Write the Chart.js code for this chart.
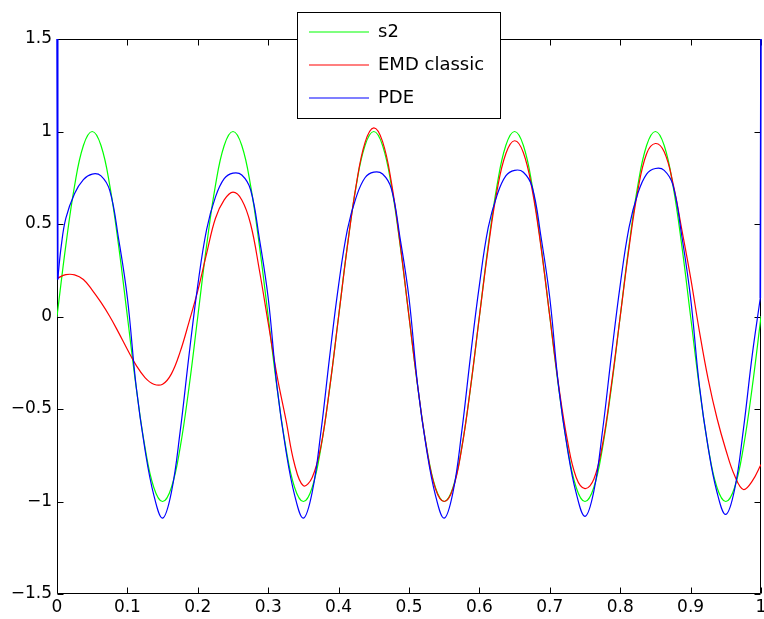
<!DOCTYPE html>
<html>
<head>
<meta charset="utf-8">
<script src="https://cdn.jsdelivr.net/npm/chart.js@4.4.1/dist/chart.umd.min.js"></script>
<style>
html,body{margin:0;padding:0;background:#fff;}
canvas{display:block;}
</style>
</head>
<body>
<canvas id="c" width="764" height="619"></canvas>
<script>
// ---- data ----
const seriesNames = ['s2', 'EMD classic', 'PDE'];
const seriesColors = ['#00ff00', '#ff0000', '#0000ff'];

const xGrid = [0,0.0125,0.025,0.0375,0.05,0.0625,0.075,0.0875,0.1,0.1125,0.125,0.1375,0.15,0.1625,0.175,0.1875,
  0.2,0.2125,0.225,0.2375,0.25,0.2625,0.275,0.2875,0.3,0.3125,0.325,0.3375,0.35,0.3625,0.375,0.3875,
  0.4,0.4125,0.425,0.4375,0.45,0.4625,0.475,0.4875,0.5,0.5125,0.525,0.5375,0.55,0.5625,0.575,0.5875,
  0.6,0.6125,0.625,0.6375,0.65,0.6625,0.675,0.6875,0.7,0.7125,0.725,0.7375,0.75,0.7625,0.775,0.7875,
  0.8,0.8125,0.825,0.8375,0.85,0.8625,0.875,0.8875,0.9,0.9125,0.925,0.9375,0.95,0.9625,0.975,0.9875,
  1];

const s2Values = [0,0.383,0.707,0.924,1,0.924,0.707,0.383,0,-0.383,-0.707,-0.924,-1,-0.924,-0.707,-0.383,
  0,0.383,0.707,0.924,1,0.924,0.707,0.383,0,-0.383,-0.707,-0.924,-1,-0.924,-0.707,-0.383,
  0,0.383,0.707,0.924,1,0.924,0.707,0.383,0,-0.383,-0.707,-0.924,-1,-0.924,-0.707,-0.383,
  0,0.383,0.707,0.924,1,0.924,0.707,0.383,0,-0.383,-0.707,-0.924,-1,-0.924,-0.707,-0.383,
  0,0.383,0.707,0.924,1,0.924,0.707,0.383,0,-0.383,-0.707,-0.924,-1,-0.924,-0.707,-0.383,
  0];

const emdValues = [0.206,0.226,0.225,0.2,0.143,0.076,0.0,-0.087,-0.178,-0.264,-0.33,-0.366,-0.366,-0.31,-0.19,-0.03,
  0.14,0.34,0.53,0.63,0.672,0.63,0.50,0.25,-0.035,-0.32,-0.555,-0.80,-0.915,-0.87,-0.70,-0.38,
  0.0,0.38,0.71,0.94,1.02,0.945,0.725,0.39,0.0,-0.38,-0.71,-0.93,-1.0,-0.93,-0.71,-0.38,
  0.0,0.37,0.68,0.88,0.95,0.885,0.685,0.375,0.0,-0.37,-0.67,-0.87,-0.93,-0.88,-0.69,-0.37,
  0.0,0.37,0.68,0.88,0.935,0.89,0.72,0.47,0.21,-0.08,-0.34,-0.55,-0.72,-0.86,-0.935,-0.89,
  -0.80];

// PDE: main curve
const pdeX = [0.001,0.006,0.0125,0.025,0.0375,0.05,0.0625,0.075,0.0875,0.1,0.1125,0.125,0.1375,0.15,0.1625,0.175,0.1875,
  0.2,0.2125,0.225,0.2375,0.25,0.2625,0.275,0.2875,0.3,0.3125,0.325,0.3375,0.35,0.3625,0.375,0.3875,
  0.4,0.4125,0.425,0.4375,0.45,0.4625,0.475,0.4875,0.5,0.5125,0.525,0.5375,0.55,0.5625,0.575,0.5875,
  0.6,0.6125,0.625,0.6375,0.65,0.6625,0.675,0.6875,0.7,0.7125,0.725,0.7375,0.75,0.7625,0.775,0.7875,
  0.8,0.8125,0.825,0.8375,0.85,0.8625,0.875,0.8875,0.9,0.9125,0.925,0.9375,0.95,0.9625,0.975,0.9875,
  0.999];

const pdeValues = [0.2,0.38,0.53,0.665,0.74,0.77,0.76,0.68,0.42,0.10,-0.38,-0.72,-0.965,-1.09,-0.95,-0.62,-0.21,
  0.17,0.47,0.645,0.745,0.775,0.765,0.685,0.42,0.10,-0.38,-0.72,-0.965,-1.09,-0.95,-0.62,-0.21,
  0.17,0.47,0.645,0.75,0.78,0.77,0.69,0.42,0.10,-0.38,-0.72,-0.965,-1.09,-0.95,-0.62,-0.21,
  0.17,0.48,0.655,0.76,0.79,0.78,0.70,0.43,0.10,-0.38,-0.715,-0.955,-1.08,-0.945,-0.615,-0.21,
  0.17,0.48,0.665,0.77,0.80,0.79,0.71,0.435,0.10,-0.375,-0.71,-0.95,-1.07,-0.935,-0.61,-0.21,
  0.10];

// PDE: boundary spikes at both ends (the values run off the top of the axes)
const pdeEdgeX = [0, 0.001, 0.5, 0.999, 1];
const pdeEdgeValues = [1.6, 0.2, null, 0.10, 1.6];

const xTickValues = [0,0.1,0.2,0.3,0.4,0.5,0.6,0.7,0.8,0.9,1];
const xTickLabels = ['0','0.1','0.2','0.3','0.4','0.5','0.6','0.7','0.8','0.9','1'];
const yTickValues = [-1.5,-1,-0.5,0,0.5,1,1.5];
const yTickLabels = ['\u22121.5','\u22121','\u22120.5','0','0.5','1','1.5'];

// ---- chart ----
const FONT = "'DejaVu Sans', sans-serif";
Chart.defaults.font.family = FONT;
Chart.defaults.color = '#000';

function pts(xs, ys) { return xs.map((x, i) => ({x: x, y: ys[i]})); }

const LEGEND_BOX = {left: 297, top: 12, right: 501, bottom: 119};

const matlabPlugin = {
  id: 'matlabBox',
  afterLayout(chart) {
    const lg = chart.legend;
    if (!lg) return;
    const w = lg.width;
    lg.left = LEGEND_BOX.left - 3;
    lg.right = lg.left + w;
    lg.top = 8;
    lg.bottom = chart.chartArea.bottom;
  },
  beforeDatasetsDraw(chart) {
    const {ctx, chartArea: a, scales} = chart;
    const xs = scales.x, ys = scales.y;
    const L = 6;
    ctx.save();
    ctx.strokeStyle = '#000';
    ctx.lineWidth = 1;
    ctx.beginPath();
    const l = Math.round(a.left) + 0.5, r = Math.round(a.right) - 0.5;
    const t = Math.round(a.top) + 0.5, b = Math.round(a.bottom) - 0.5;
    ctx.rect(l, t, r - l, b - t);
    xs.ticks.forEach(tk => {
      const px = Math.round(xs.getPixelForValue(tk.value)) + 0.5;
      ctx.moveTo(px, b); ctx.lineTo(px, b - L);
      ctx.moveTo(px, t); ctx.lineTo(px, t + L);
    });
    ys.ticks.forEach(tk => {
      const py = Math.round(ys.getPixelForValue(tk.value)) + 0.5;
      ctx.moveTo(l, py); ctx.lineTo(l + L, py);
      ctx.moveTo(r, py); ctx.lineTo(r - L, py);
    });
    ctx.stroke();
    ctx.restore();
  },
  afterDraw(chart) {
    const {ctx} = chart;
    const lg = chart.legend;
    ctx.save();
    ctx.fillStyle = '#fff';
    ctx.fillRect(LEGEND_BOX.left, LEGEND_BOX.top, LEGEND_BOX.right - LEGEND_BOX.left, LEGEND_BOX.bottom - LEGEND_BOX.top);
    ctx.strokeStyle = '#000';
    ctx.lineWidth = 1;
    ctx.strokeRect(LEGEND_BOX.left + 0.5, LEGEND_BOX.top + 0.5, LEGEND_BOX.right - LEGEND_BOX.left - 1, LEGEND_BOX.bottom - LEGEND_BOX.top - 1);
    ctx.restore();
    if (lg) lg.draw();
  }
};

const lineBase = {
  pointRadius: 0,
  pointHoverRadius: 0,
  borderWidth: 1.2,
  fill: false,
  tension: 0.4,
  cubicInterpolationMode: 'default'
};

new Chart(document.getElementById('c'), {
  type: 'line',
  data: {
    datasets: [
      Object.assign({}, lineBase, {label: seriesNames[0], data: pts(xGrid, s2Values), borderColor: seriesColors[0], backgroundColor: seriesColors[0], order: 3}),
      Object.assign({}, lineBase, {label: seriesNames[1], data: pts(xGrid, emdValues), borderColor: seriesColors[1], backgroundColor: seriesColors[1], order: 2}),
      Object.assign({}, lineBase, {label: seriesNames[2], data: pts(pdeX, pdeValues), borderColor: seriesColors[2], backgroundColor: seriesColors[2], order: 1}),
      Object.assign({}, lineBase, {label: seriesNames[2] + ' edge', data: pts(pdeEdgeX, pdeEdgeValues), borderColor: seriesColors[2], backgroundColor: seriesColors[2], order: 0,
        tension: 0, spanGaps: false, borderWidth: 1.6, clip: {left: 2, right: 2, top: 0, bottom: 0}})
    ]
  },
  options: {
    responsive: false,
    devicePixelRatio: 1,
    animation: false,
    events: [],
    layout: {padding: {left: 0, right: 3, top: 39, bottom: 0}},
    scales: {
      x: {
        type: 'linear',
        min: 0, max: 1,
        afterBuildTicks(s) { s.ticks = xTickValues.map(v => ({value: v})); },
        afterFit(s) { s.height = 25; s.paddingLeft = 0; s.paddingRight = 0; },
        grid: {display: false, drawTicks: false},
        border: {display: false},
        ticks: {
          padding: 3,
          maxRotation: 0,
          autoSkip: false,
          font: {size: 17, family: FONT},
          color: '#000',
          callback: (v, i) => xTickLabels[i]
        }
      },
      y: {
        type: 'linear',
        min: -1.5, max: 1.5,
        afterBuildTicks(s) { s.ticks = yTickValues.map(v => ({value: v})); },
        afterFit(s) { s.width = 57; s.paddingTop = 0; s.paddingBottom = 0; },
        grid: {display: false, drawTicks: false},
        border: {display: false},
        ticks: {
          padding: 5,
          autoSkip: false,
          font: {size: 17, family: FONT},
          color: '#000',
          callback: (v, i) => yTickLabels[i]
        }
      }
    },
    plugins: {
      tooltip: {enabled: false},
      legend: {
        display: true,
        position: 'chartArea',
        align: 'start',
        labels: {
          usePointStyle: true,
          pointStyle: 'line',
          pointStyleWidth: 60,
          boxHeight: 2,
          padding: 15,
          color: '#000',
          font: {size: 18, family: FONT},
          filter: (item) => item.datasetIndex < 3,
          sort: (a, b) => a.datasetIndex - b.datasetIndex
        }
      }
    }
  },
  plugins: [matlabPlugin]
});
</script>
</body>
</html>
